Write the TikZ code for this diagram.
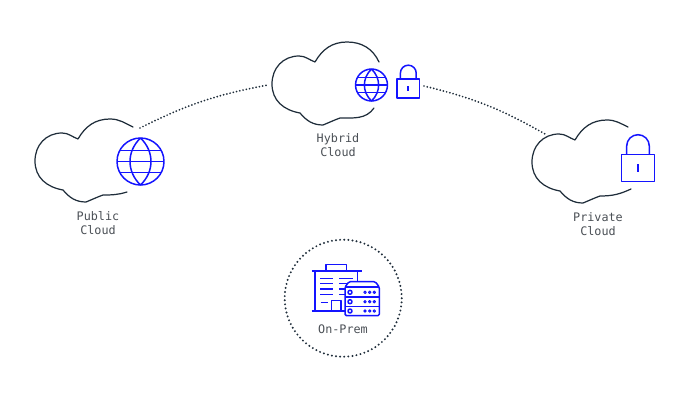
\documentclass[tikz,border=0pt]{standalone}
\usepackage{fontspec}
\setmonofont{DejaVu Sans Mono}
\definecolor{cloudink}{HTML}{1F2D3A}
\definecolor{iconblue}{HTML}{1414FF}
\definecolor{labelgray}{HTML}{4A4F55}
\tikzset{
	cloudline/.style={draw=cloudink, line width=0.7pt, line cap=round, line join=round},
	iconline/.style={draw=iconblue, line width=0.85pt, line join=round},
	linkdots/.style={draw=cloudink, line width=1.1pt, line cap=round, dash pattern=on 0pt off 1.9pt},
	cloudlabel/.style={font=\ttfamily\fontsize{6.7}{8}\selectfont, text=labelgray, align=center, inner sep=0pt},
	pics/globe/.style={code={
		\draw[iconline] (0,0) circle (23.5);
		\draw[iconline] (0,23.5) .. controls (-14,10) and (-14,-10) .. (0,-23.5) .. controls (14,-10) and (14,10) .. (0,23.5);
		\draw[iconline] (-23.5,0)--(23.5,0) (-20.8,11)--(20.8,11) (-20.8,-11)--(20.8,-11);
	}},
	pics/padlock/.style={code={
		\draw[iconline] (-16.3,-13.7) rectangle (16.3,13.7);
		\draw[iconline] (-11.3,13.7)--(-11.3,22) arc (180:0:11.3)--(11.3,13.7);
		\draw[iconline, line width=1pt] (0,-3.5)--(0,4);
	}}
}
% notch, start, start angle, end, end angle
\newcommand{\cloudpath}[5]{
	\draw[cloudline, shift={#1}] #2 to[out=#3,in=0] (32,20) to[out=180,in=60] (0,0)
		to[out=160,in=0] (-16,6) to[out=180,in=90,looseness=1.05] (-43,-22) to[out=270,in=170,looseness=1.05] (-15,-51)
		to[out=-50,in=180] (8,-63) to[out=22,in=200] (25,-56) to[out=0,in=#5] #4;
}
\begin{document}
\begin{tikzpicture}[x=0.02cm, y=0.02cm]
	\useasboundingbox (0,0) rectangle (690,400);
	% clouds
	\cloudpath{(78,261)}{(55,12)}{155}{(49,-53)}{197}
	\cloudpath{(315,338)}{(64,0)}{115}{(59,-46)}{235}
	\cloudpath{(575,260)}{(53,13)}{155}{(56,-49)}{205}
	% icons
	\pic at (140.5,238.5) {globe};
	\pic[scale=0.68] at (371.5,315) {globe};
	\pic at (638,232) {padlock};
	\pic[scale=0.7] at (408.3,311.5) {padlock};
	% links
	\coordinate (pubend) at (140,272);
	\coordinate (hybleft) at (268,315);
	\coordinate (hybright) at (424,314);
	\coordinate (privend) at (545,266);
	\draw[linkdots] (pubend) to[bend left=8] (hybleft);
	\draw[linkdots] (hybright) to[bend left=8] (privend);
	% labels
	\node[cloudlabel] (publabel) at (98,177) {Public\\Cloud};
	\node[cloudlabel] (hyblabel) at (338,255) {Hybrid\\Cloud};
	\node[cloudlabel] (privlabel) at (598,176) {Private\\Cloud};
	\node[cloudlabel] (premlabel) at (343,71) {On-Prem};
	% on-prem
	\draw[linkdots, line width=1.25pt, dash pattern=on 0pt off 2.35pt] (343.2,101.8) circle (58.5);
	\draw[iconline] (326,129)--(326,135.7)--(346.7,135.7)--(346.7,129);
	\draw[iconline] (311.7,129)--(361.7,129) (315,129)--(315,89) (357.7,129)--(357.7,119) (311.7,89)--(345,89);
	\draw[iconline] (331.7,89)--(331.7,99.7)--(341,99.7)--(341,89);
	\foreach \y in {121.7,116.7,111,105.7}\draw[iconline] (320,\y)--(333.3,\y);
	\foreach \y in {121.7,116.7}\draw[iconline] (339.3,\y)--(352.7,\y);
	\draw[iconline] (339.3,111)--(345,111) (339.3,105.7)--(345,105.7) (320.7,97.7)--(328,97.7);
	\draw[iconline, fill=white, rounded corners=0.8pt] (345,113)--(349,118.3)--(375.3,118.3)--(379.3,113)--(379.3,84.3)--(345,84.3)--cycle;
	\foreach \y in {113,103,93.7}\draw[iconline] (345,\y)--(379.3,\y);
	\foreach \y in {107.7,98.3,89}{
		\draw[iconline] (350,\y) circle (2);
		\foreach \x in {365,369.7,374.3}\draw[iconline, line width=0.6pt] (\x,\y) circle (1.2);
	}
\end{tikzpicture}
\end{document}
